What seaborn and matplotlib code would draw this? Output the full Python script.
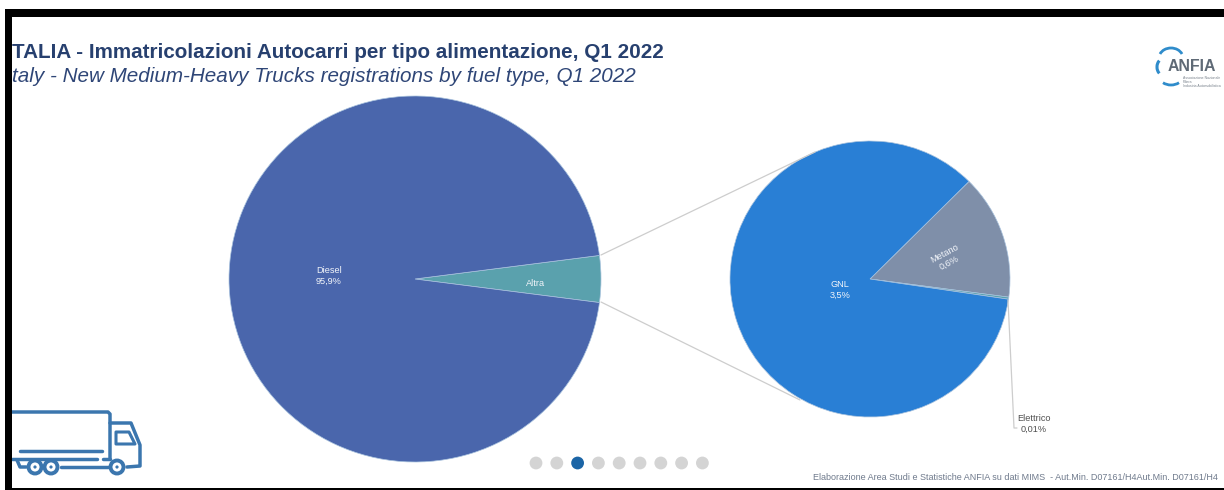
import matplotlib
matplotlib.use("Agg")
import matplotlib.pyplot as plt
from matplotlib.patches import Rectangle, Arc, Circle, Polygon
import pandas as pd
import seaborn as sns

# Fuel-type shares, Q1 2022 (percent)
main_labels = ["Altra", "Diesel"]
main_values = [4.11, 95.9]
main_colors = ["#5AA1AD", "#4A66AC"]

detail_labels = ["Metano", "Elettrico", "GNL"]
detail_values = [0.6, 0.01, 3.5]
detail_colors = ["#7F8FA9", "#5AA2AE", "#297FD5"]

title_it = "TALIA - Immatricolazioni Autocarri per tipo alimentazione, Q1 2022"
title_en = "taly - New Medium-Heavy Trucks registrations by fuel type, Q1 2022"
source = "Elaborazione Area Studi e Statistiche ANFIA su dati MIMS  - Aut.Min. D07161/H4Aut.Min. D07161/H4"

page_index = list(range(9))
active_page = 2

W, H = 1224, 490
sns.set_theme(style="white")
plt.rcParams["font.family"] = ["Liberation Sans", "DejaVu Sans"]

fig = plt.figure(figsize=(W / 100, H / 100), dpi=100, facecolor="white")


def box_axes(x0, y0, x1, y1):
    """Axes placed by pixel box, with y0 the upper edge."""
    return fig.add_axes([x0 / W, 1 - y1 / H, (x1 - x0) / W, (y1 - y0) / H])


def draw_pie(ax, values, colors, start):
    ax.pie(values, colors=colors, startangle=start, counterclock=False,
           radius=1.0, wedgeprops=dict(edgecolor="#A9C3DE", linewidth=0.5))
    ax.set_aspect("auto")
    ax.set_xlim(-1, 1)
    ax.set_ylim(-1, 1)
    ax.axis("off")


half_span = main_values[0] / sum(main_values) * 360 / 2
draw_pie(box_axes(229, 96, 601, 462), main_values, main_colors, half_span)
draw_pie(box_axes(730, 141, 1010, 417), detail_values, detail_colors, 45)

# Full-figure layer in pixel coordinates for annotations and decoration
ov = fig.add_axes([0, 0, 1, 1], zorder=5)
ov.set_xlim(0, W)
ov.set_ylim(H, 0)
ov.patch.set_alpha(0)
ov.axis("off")

# Connectors between the two pies and the leader of the smallest slice
line_c = "#CDCDCD"
ov.plot([601, 815], [255, 152], color=line_c, lw=0.9)
ov.plot([601, 800], [302, 400], color=line_c, lw=0.9)
ov.plot([1008, 1014, 1017], [300, 428, 428], color=line_c, lw=0.9)

# Slice labels
lab = dict(ha="center", va="center", color="#F2F5FA", fontsize=6.6, linespacing=1.15)
ov.text(329, 276, "Diesel\n95,9%", **lab)
ov.text(536, 283, "Altra", **lab)
ov.text(840, 290, "GNL\n3,5%", **lab)
ov.text(947, 258, "Metano\n0,6%", rotation=28, rotation_mode="anchor", **lab)
ov.text(1034, 424, "Elettrico\n0,01%", ha="center", va="center", color="#4F4F4F",
        fontsize=6.6, linespacing=1.2)

# Headings
ov.text(12, 52, title_it, fontsize=14.85, fontweight="bold", color="#27406F", va="center")
ov.text(12, 77, title_en, fontsize=14.85, fontstyle="italic", color="#2F4677", va="center")
ov.text(813, 477, source, fontsize=6.45, color="#6F7A8C", va="center")

# Page indicator
pages = pd.DataFrame({"x": [536 + 20.8 * i for i in page_index], "y": 463,
                      "state": ["on" if i == active_page else "off" for i in page_index]})
sns.scatterplot(data=pages, x="x", y="y", hue="state", ax=ov, legend=False, s=85,
                palette={"on": "#1B65A6", "off": "#D4D4D4"}, linewidth=0, clip_on=False)
ov.set_xlabel("")
ov.set_ylabel("")

# Truck pictogram
tc = "#3B76AE"
truck = [
    ([12, 108, 110, 110], [412, 412, 414, 458]),
    ([110, 131, 140, 140, 127], [423, 423, 445, 466, 467]),
    ([20, 102], [451, 451]),
    ([12, 97], [459, 459]),
    ([103, 110], [459, 459]),
    ([17, 20, 26], [460, 467, 467]),
    ([61, 108], [467, 467]),
]
for xs, ys in truck:
    ov.plot(xs, ys, color=tc, lw=2.5, solid_capstyle="round", solid_joinstyle="round")
ov.add_patch(Polygon([[116, 432], [129, 432], [135, 444], [116, 444]], closed=True,
                     fill=False, edgecolor=tc, lw=2.2, joinstyle="round"))
for cx in (35, 51, 117):
    ov.add_patch(Circle((cx, 467), 6.5, facecolor="white", edgecolor=tc, lw=2.8, zorder=6))
    ov.add_patch(Circle((cx, 467), 1.6, facecolor=tc, edgecolor="none", zorder=7))

# Association logo
lc = "#2F8CCB"
ov.add_patch(Arc((1171, 58), 24, 20, theta1=200, theta2=340, color=lc, lw=2.0))
ov.add_patch(Arc((1171, 76), 24, 18, theta1=40, theta2=140, color=lc, lw=2.0))
ov.add_patch(Arc((1163, 67), 12, 16, theta1=120, theta2=240, color=lc, lw=2.2))
ov.text(1167.5, 66.5, "ANFIA", fontsize=11.4, fontweight="bold", color="#5F6A76", va="center")
for yy, s in zip((78, 82, 86), ("Associazione Nazionale", "Filiera", "Industria Automobilistica")):
    ov.text(1183, yy, s, fontsize=2.5, color="#7A838D", va="center")

# Black screen border
for x, y, w, h in [(5, 9, W - 5, 8), (5, 9, 7, H - 9), (5, 488, W - 5, 2)]:
    ov.add_patch(Rectangle((x, y), w, h, facecolor="black", edgecolor="none", zorder=10))

fig.savefig("out.png", dpi=100, facecolor="white")
